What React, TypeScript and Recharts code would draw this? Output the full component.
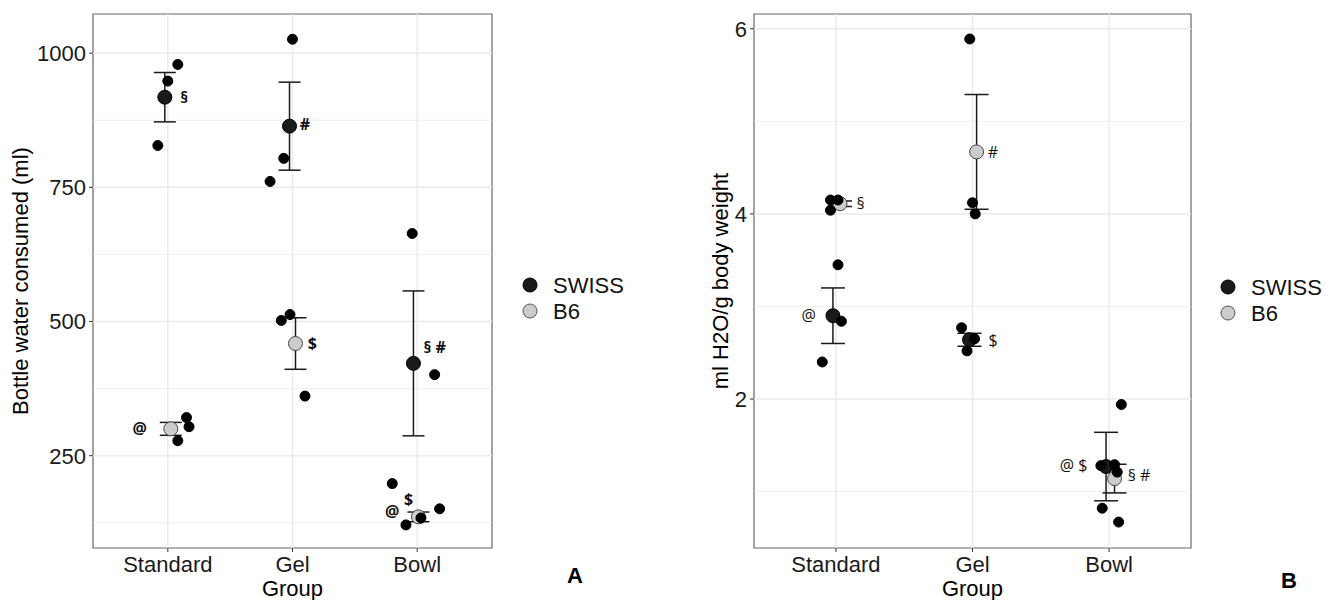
import { ScatterChart, Scatter, XAxis, YAxis, ErrorBar, ReferenceLine, ReferenceArea } from "recharts"

const groups = ["Standard", "Gel", "Bowl"]
const strains = ["SWISS", "B6"]

// Panel A: bottle water consumed (ml)
const swissXA = [0.976, 1.976, 2.97]
const swissMeanA = [918, 864, 422]
const swissSeA = [46, 82, 135]
const b6XA = [1.024, 2.024, 3.01]
const b6MeanA = [300, 459, 136]
const b6SeA = [12, 48, 9]
const pointXA = [1.08, 1.0, 0.92, 1.15, 1.17, 1.08, 2.0, 1.93, 1.82, 1.91, 1.98, 2.1, 2.96, 3.14, 2.8, 2.91, 3.18, 3.03]
const pointYA = [979, 948, 828, 321, 304, 278, 1026, 804, 761, 502, 513, 361, 664, 401, 198, 121, 151, 134]
const noteTextA = ["§", "@", "#", "$", "§ #", "@", "$"]
const noteXA = [1.13, 0.775, 2.1, 2.16, 3.14, 2.8, 2.93]
const noteYA = [918, 300, 868, 459, 451, 147, 168]
const yTicksA = [250, 500, 750, 1000]
const yMinorA = [125, 375, 625, 875]
const yDomainA = [78, 1073]

// Panel B: ml H2O/g body weight
const swissXB = [0.978, 1.978, 2.978]
const swissMeanB = [2.9, 2.64, 1.27]
const swissSeB = [0.3, 0.07, 0.37]
const b6XB = [1.03, 2.03, 3.04]
const b6MeanB = [4.11, 4.67, 1.14]
const b6SeB = [0.03, 0.62, 0.155]
const pointXB = [0.96, 1.015, 0.96, 1.015, 1.04, 0.9, 1.98, 2.0, 2.02, 1.92, 1.96, 2.015, 3.09, 2.94, 3.04, 3.06, 2.95, 3.07]
const pointYB = [4.15, 4.15, 4.04, 3.45, 2.84, 2.4, 5.89, 4.12, 4.0, 2.77, 2.52, 2.65, 1.94, 1.28, 1.29, 1.21, 0.82, 0.67]
const noteTextB = ["§", "@", "#", "$", "@ $", "§ #"]
const noteXB = [1.18, 0.8, 2.15, 2.15, 2.74, 3.22]
const noteYB = [4.11, 2.9, 4.66, 2.63, 1.28, 1.17]
const yTicksB = [2, 4, 6]
const yMinorB = [1, 3, 5]
const yDomainB = [0.39, 6.16]

const GRID = "#ebebeb"

const dot = (r: number, fill: string, stroke: string) => (p: any) =>
  <circle cx={p.cx} cy={p.cy} r={r} fill={fill} stroke={stroke} strokeWidth={1} />

function Panel(props: any) {
  const { sx, sm, se, bx, bm, be, px, py, nt, nx, ny, yDomain, yTicks, yMinor, yLabel, width, yw, labelOffset, cap, bold } = props
  const swiss = sm.map((v: number, i: number) => ({ x: sx[i], y: v, err: se[i] }))
  const b6 = bm.map((v: number, i: number) => ({ x: bx[i], y: v, err: be[i] }))
  const pts = py.map((v: number, i: number) => ({ x: px[i], y: v }))
  const notes = nt.map((t: string, i: number) => ({ x: nx[i], y: ny[i], t }))
  const noteShape = (p: any) => (
    <text x={p.cx} y={p.cy} dy="0.35em" textAnchor="middle" fontSize={16}
      fontWeight={bold ? 700 : 400} fontFamily='"Open Sans", sans-serif' fill="#111">
      {p.payload?.t ?? p.t}
    </text>
  )
  return (
    <ScatterChart width={width} height={600} margin={{ top: 14, right: 8, bottom: 0, left: 0 }}>
      <XAxis type="number" dataKey="x" domain={[0.4, 3.6]} ticks={[1, 2, 3]} interval={0} allowDataOverflow
        tickFormatter={(v: number) => groups[Math.round(v) - 1]} height={52} tickSize={4} tickMargin={4}
        axisLine={false} tickLine={{ stroke: "#333" }} tick={{ fill: "#1a1a1a", fontSize: 22 }}
        label={{ value: "Group", position: "insideBottom", offset: 4, fill: "#000", fontSize: 22 }} />
      <YAxis type="number" dataKey="y" domain={yDomain} ticks={yTicks} interval={0} allowDataOverflow width={yw}
        tickSize={4} tickMargin={3} axisLine={false} tickLine={{ stroke: "#333" }} tick={{ fill: "#1a1a1a", fontSize: 22 }}
        label={{ value: yLabel, angle: -90, position: "insideLeft", offset: labelOffset, fill: "#000", fontSize: 22, style: { textAnchor: "middle" } }} />
      {yMinor.map((v: number) => <ReferenceLine key={"m" + v} y={v} stroke={GRID} strokeWidth={0.8} />)}
      {yTicks.map((v: number) => <ReferenceLine key={"M" + v} y={v} stroke={GRID} strokeWidth={1.5} />)}
      {[1, 2, 3].map((v) => <ReferenceLine key={"x" + v} x={v} stroke={GRID} strokeWidth={1.5} />)}
      <ReferenceArea x1={0.4} x2={3.6} y1={yDomain[0]} y2={yDomain[1]} fill="none" fillOpacity={0} stroke="#666" strokeWidth={1.2} />
      <Scatter name="SWISS" data={swiss} shape={dot(7, "#1a1a1a", "#000")} isAnimationActive={false}>
        <ErrorBar dataKey="err" direction="y" width={cap} stroke="#1a1a1a" strokeWidth={1.5} />
      </Scatter>
      <Scatter name="B6" data={b6} shape={dot(7, "#cccccc", "#444")} isAnimationActive={false}>
        <ErrorBar dataKey="err" direction="y" width={cap} stroke="#1a1a1a" strokeWidth={1.5} />
      </Scatter>
      <Scatter name="points" data={pts} shape={dot(5, "#000", "#000")} isAnimationActive={false} legendType="none" />
      <Scatter name="notes" data={notes} shape={noteShape} isAnimationActive={false} legendType="none" />
    </ScatterChart>
  )
}

function LegendBox({ x, y }: { x: number; y: number }) {
  const fills = ["#1a1a1a", "#cccccc"]
  const strokes = ["#000", "#555"]
  return (
    <g>
      {strains.map((s, i) => (
        <g key={s}>
          <circle cx={x} cy={y + i * 26} r={7} fill={fills[i]} stroke={strokes[i]} strokeWidth={1} />
          <text x={x + 23} y={y + i * 26} dy="0.36em" fontSize={22} fill="#111">{s}</text>
        </g>
      ))}
    </g>
  )
}

export default function App() {
  return (
    <div style={{ position: "absolute", left: 0, top: 0, width: 1326, height: 600, background: "#fff", fontFamily: '"Liberation Sans", Arial, sans-serif', overflow: "hidden" }}>
      <div style={{ position: "absolute", left: 0, top: 0 }}>
        <Panel sx={swissXA} sm={swissMeanA} se={swissSeA} bx={b6XA} bm={b6MeanA} be={b6SeA}
          px={pointXA} py={pointYA} nt={noteTextA} nx={noteXA} ny={noteYA}
          yDomain={yDomainA} yTicks={yTicksA} yMinor={yMinorA} yLabel="Bottle water consumed (ml)"
          width={500} yw={93} labelOffset={20} cap={11} bold />
      </div>
      <div style={{ position: "absolute", left: 660, top: 0 }}>
        <Panel sx={swissXB} sm={swissMeanB} se={swissSeB} bx={b6XB} bm={b6MeanB} be={b6SeB}
          px={pointXB} py={pointYB} nt={noteTextB} nx={noteXB} ny={noteYB}
          yDomain={yDomainB} yTicks={yTicksB} yMinor={yMinorB} yLabel="ml H2O/g body weight"
          width={539} yw={94} labelOffset={60} cap={12} bold={false} />
      </div>
      <svg width={1326} height={600} style={{ position: "absolute", left: 0, top: 0, pointerEvents: "none" }}>
        <LegendBox x={530} y={285} />
        <LegendBox x={1228} y={287} />
        <text x={575} y={583} textAnchor="middle" fontSize={22} fontWeight={700} fill="#000">A</text>
        <text x={1289} y={588} textAnchor="middle" fontSize={22} fontWeight={700} fill="#000">B</text>
      </svg>
    </div>
  )
}
